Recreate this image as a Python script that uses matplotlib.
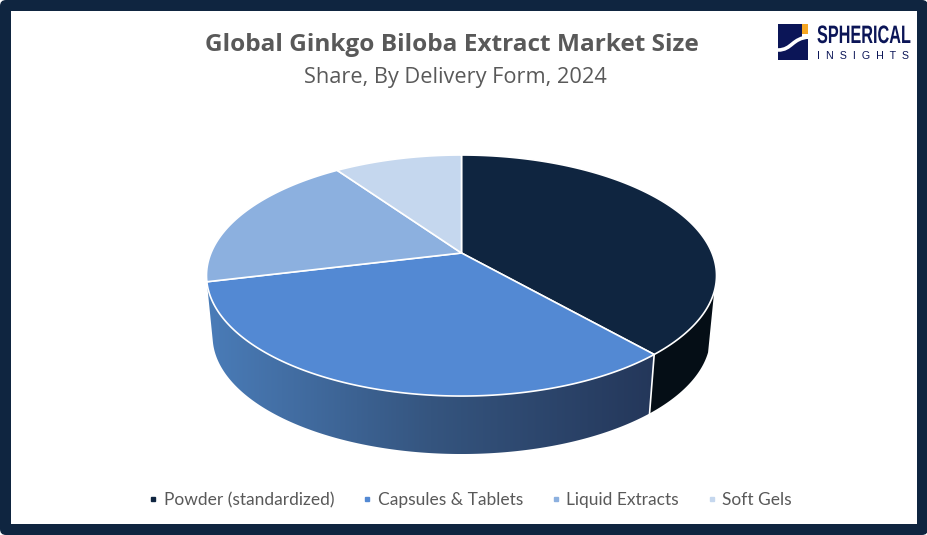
import numpy as np
import matplotlib
matplotlib.use("Agg")
import matplotlib.pyplot as plt
from matplotlib.patches import FancyBboxPatch, Polygon, Rectangle, PathPatch
from matplotlib.path import Path
from matplotlib.colors import LinearSegmentedColormap
from matplotlib.lines import Line2D
from matplotlib.patheffects import AbstractPathEffect
from matplotlib.transforms import Affine2D

# data
categories = ["Powder (standardized)", "Capsules & Tablets", "Liquid Extracts", "Soft Gels"]
shares = [38.5, 32.7, 19.1, 9.7]
colors = ["#0f2540", "#5389d3", "#8cb0df", "#c5d7ee"]
title = "Global Ginkgo Biloba Extract Market Size"
subtitle = "Share, By Delivery Form, 2024"

# pie geometry in pixels, apex of the top face and perspective of the disc
apex_x, apex_y = 461.5, 253.0
a, b, k = 250.5, 116.3, 0.187
drop = 61.4
shrink = 0.976
wall_start = np.pi / 2 + 0.32


def project(theta, s=1.0, dy=0.0):
    # theta runs clockwise from the back of the disc
    X = np.sin(theta)
    Y = np.cos(theta)
    w = 1 + k * Y
    return apex_x + s * a * X / w, apex_y + dy - s * b * Y / w


class Tall(AbstractPathEffect):
    # the logo lettering is condensed, stretch the glyphs upwards from the baseline
    def __init__(self, sy):
        super().__init__()
        self.sy = sy

    def draw_path(self, renderer, gc, tpath, affine, rgbFace=None):
        renderer.draw_path(gc, tpath, Affine2D().scale(1, self.sy) + affine, rgbFace)


fig = plt.figure(figsize=(9.28, 5.35), dpi=100)
ax = fig.add_axes([0, 0, 1, 1])
ax.set_xlim(0, 928)
ax.set_ylim(535, 0)
ax.set_axis_off()

# frame
ax.add_patch(FancyBboxPatch((0, 0), 928, 535, boxstyle="round,pad=0,rounding_size=6",
                            fc="#0f2540", ec="none", zorder=1))
ax.add_patch(Rectangle((11, 11), 906, 513, fc="white", ec="none", zorder=1))

edges = 2 * np.pi * np.cumsum([0] + shares) / sum(shares)


# side wall, only the front part of the disc shows
def wall_poly(t0, t1):
    t = np.linspace(t0, t1, 200)
    x0, y0 = project(t)
    x1, y1 = project(t[::-1], s=shrink, dy=drop)
    return np.column_stack([np.r_[x0, x1], np.r_[y0, y1]])


powder_wall = Polygon(wall_poly(wall_start, edges[1]), closed=True, fc="#050e16", ec="none", zorder=2)
ax.add_patch(powder_wall)

cmap = LinearSegmentedColormap.from_list("wall", ["#4a7cb8", "#35557f", "#24375a"])
cap_wall = Polygon(wall_poly(edges[1], edges[2]), closed=True, fc="none", ec="none", zorder=3)
ax.add_patch(cap_wall)
xs, ys = cap_wall.get_xy().T
grad = np.linspace(0, 1, 256).reshape(1, -1)
im = ax.imshow(grad, cmap=cmap, extent=[xs.min(), xs.max(), ys.max(), ys.min()],
               aspect="auto", zorder=3)
im.set_clip_path(cap_wall)
ax.set_xlim(0, 928)
ax.set_ylim(535, 0)

# white seam between the two wall pieces
sx0, sy0 = project(edges[1])
sx1, sy1 = project(edges[1], s=shrink, dy=drop)
ax.plot([sx0, sx1], [sy0, sy1], color="white", lw=1.2, zorder=4)

# top face
for i in range(len(shares)):
    t = np.linspace(edges[i], edges[i + 1], 200)
    x, y = project(t)
    ax.add_patch(Polygon(np.column_stack([np.r_[apex_x, x], np.r_[apex_y, y]]), closed=True,
                         fc=colors[i], ec="white", lw=1.2, joinstyle="round", zorder=5))

# titles
ax.text(452, 45, title, ha="center", va="center", fontsize=17.55, fontweight="bold",
        family="Open Sans", color="#595959")
ax.text(455, 78, subtitle, ha="center", va="center", fontsize=15.7,
        family="Open Sans", color="#595959")

# legend
handles = [Line2D([], [], ls="none", marker="s", ms=3.4, mfc=c, mec=c) for c in colors]
ax.legend(handles, categories, loc="center", bbox_to_anchor=(468 / 928, 1 - 500 / 535), ncols=4,
          frameon=False, prop={"family": "Lato", "size": 12.5}, labelcolor="#595959",
          handletextpad=0.05, columnspacing=1.35, handlelength=1.1)

# logo
navy = "#0b1557"
ax.add_patch(Rectangle((778, 24), 24, 36, fc=navy, ec="none", zorder=6))
ax.add_patch(Rectangle((802, 24), 6.5, 10, fc="#f5a623", ec="none", zorder=6))
ax.add_patch(Rectangle((802, 39), 6.5, 21, fc=navy, ec="none", zorder=6))
swoosh = Path([(778, 50), (792, 50), (792, 38), (809, 37)], [Path.MOVETO, Path.CURVE4, Path.CURVE4, Path.CURVE4])
ax.add_patch(PathPatch(swoosh, fc="none", ec="white", lw=2.6, zorder=7))
ax.text(817, 43, "SPHERICAL", ha="left", va="baseline", fontsize=11.7, fontweight="bold",
        family="Liberation Sans", color=navy, zorder=7, path_effects=[Tall(1.55)])
ax.text(817, 59, "I  N  S  I  G  H  T  S", ha="left", va="baseline", fontsize=7.7, family="Liberation Sans",
        color=navy, zorder=7)

fig.savefig("out.png", dpi=100)
